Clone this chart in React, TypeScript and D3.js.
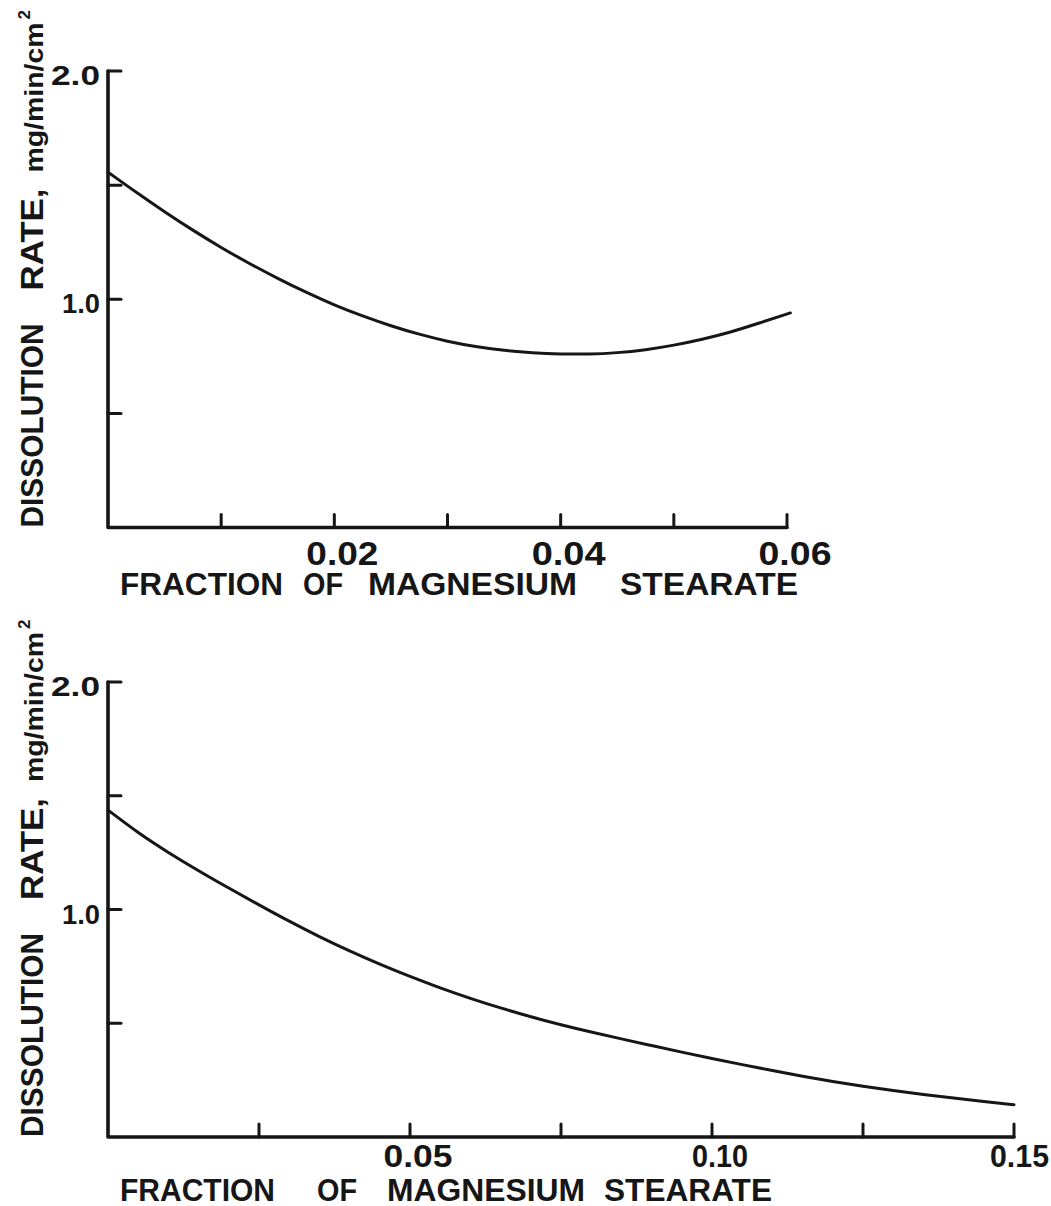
import React from "react";
import * as d3 from "d3";

// ---- data ----
const topX = [0, 0.0025, 0.005, 0.0075, 0.01, 0.0125, 0.015, 0.0175, 0.02, 0.0225, 0.025, 0.0275, 0.03, 0.0325, 0.035, 0.0375, 0.04, 0.0425, 0.045, 0.0475, 0.05, 0.0525, 0.055, 0.0575, 0.0603];
const topY = [1.557, 1.468, 1.383, 1.302, 1.226, 1.156, 1.091, 1.03, 0.974, 0.926, 0.883, 0.846, 0.815, 0.792, 0.775, 0.765, 0.76, 0.759, 0.765, 0.778, 0.798, 0.824, 0.855, 0.895, 0.94];

const botX = [0, 0.005, 0.01, 0.015, 0.02, 0.025, 0.03, 0.035, 0.04, 0.045, 0.05, 0.055, 0.06, 0.065, 0.07, 0.075, 0.08, 0.085, 0.09, 0.095, 0.1, 0.105, 0.11, 0.115, 0.12, 0.125, 0.13, 0.135, 0.14, 0.145, 0.15];
const botY = [1.437, 1.336, 1.25, 1.17, 1.094, 1.02, 0.948, 0.88, 0.817, 0.759, 0.705, 0.655, 0.609, 0.567, 0.528, 0.493, 0.461, 0.431, 0.402, 0.373, 0.345, 0.318, 0.292, 0.267, 0.244, 0.223, 0.204, 0.187, 0.171, 0.156, 0.142];

const yTicks = [0.5, 1.0, 1.5, 2.0];
const yTickLabels = [
  { v: 1.0, t: "1.0" },
  { v: 2.0, t: "2.0" },
];
const topXTicks = [0.01, 0.02, 0.03, 0.04, 0.05, 0.06];
const topXLabels = [
  { v: 0.02, t: "0.02" },
  { v: 0.04, t: "0.04" },
  { v: 0.06, t: "0.06" },
];
const botXTicks = [0.025, 0.05, 0.075, 0.1, 0.125, 0.15];
const botXLabels = [
  { v: 0.05, t: "0.05" },
  { v: 0.1, t: "0.10" },
  { v: 0.15, t: "0.15" },
];
const xTitleWords = ["FRACTION", "OF", "MAGNESIUM", "STEARATE"];
const yTitleMain = ["DISSOLUTION", "RATE,"];
const yTitleUnit = "mg/min/cm";
const yTitleSup = "2";

const INK = "#161616";
const FONT = "'Liberation Sans', Arial, sans-serif";

type PanelProps = {
  xs: number[];
  ys: number[];
  xMax: number;
  xRange: [number, number];
  yRange: [number, number];
  xTicks: number[];
  xLabels: { v: number; t: string }[];
  xLabelLens: number[];
  xLabelBase: number;
  xLabelSize: number;
  titleBase: number;
  titleWords: { x: number; len: number }[];
};

function Panel(p: PanelProps) {
  const x = d3.scaleLinear().domain([0, p.xMax]).range(p.xRange);
  const y = d3.scaleLinear().domain([0, 2]).range(p.yRange);
  const line = d3
    .line<number>()
    .x((_, i) => x(p.xs[i]))
    .y((d) => y(d))
    .curve(d3.curveBasis);
  const x0 = x(0);
  const y0 = y(0);
  const tickLen = 13;
  return (
    <g>
      {/* axes */}
      <path
        d={`M${x0},${y(2)} L${x0},${y0} L${x(p.xMax)},${y0}`}
        fill="none"
        stroke={INK}
        strokeWidth={3.6}
        strokeLinejoin="round"
        strokeLinecap="round"
      />
      {yTicks.map((v) => (
        <line key={"yt" + v} x1={x0} x2={x0 + tickLen} y1={y(v)} y2={y(v)} stroke={INK} strokeWidth={3} strokeLinecap="round" />
      ))}
      {p.xTicks.map((v) => (
        <line key={"xt" + v} x1={x(v)} x2={x(v)} y1={y0} y2={y0 - tickLen} stroke={INK} strokeWidth={3} strokeLinecap="round" />
      ))}
      {/* y tick labels */}
      {yTickLabels.map((d) => (
        <text
          key={"yl" + d.v}
          x={100}
          y={y(d.v) + 14}
          textAnchor="end"
          fontFamily={FONT}
          fontWeight="bold"
          fontSize={28}
          fill={INK}
          textLength={d.t === "1.0" ? 38 : 49}
          lengthAdjust="spacingAndGlyphs"
        >
          {d.t}
        </text>
      ))}
      {/* x tick labels */}
      {p.xLabels.map((d, i) => (
        <text
          key={"xl" + d.v}
          x={Math.min(x(d.v) + 8, 1049 - p.xLabelLens[i] / 2)}
          y={p.xLabelBase}
          textAnchor="middle"
          fontFamily={FONT}
          fontWeight="bold"
          fontSize={p.xLabelSize}
          fill={INK}
          textLength={p.xLabelLens[i]}
          lengthAdjust="spacingAndGlyphs"
        >
          {d.t}
        </text>
      ))}
      {/* x title */}
      {xTitleWords.map((w, i) => (
        <text
          key={"xw" + i}
          x={p.titleWords[i].x}
          y={p.titleBase}
          fontFamily={FONT}
          fontWeight="bold"
          fontSize={31}
          fill={INK}
          textLength={p.titleWords[i].len}
          lengthAdjust="spacingAndGlyphs"
        >
          {w}
        </text>
      ))}
      {/* y title (rotated) */}
      <g transform={`translate(43,${y0}) rotate(-90)`}>
        <text x={0} y={0} fontFamily={FONT} fontWeight="bold" fontSize={31} fill={INK} textLength={204} lengthAdjust="spacingAndGlyphs">
          {yTitleMain[0]}
        </text>
        <text x={237} y={0} fontFamily={FONT} fontWeight="bold" fontSize={31} fill={INK} textLength={102} lengthAdjust="spacingAndGlyphs">
          {yTitleMain[1]}
        </text>
        <text x={355} y={0} fontFamily={FONT} fontWeight="bold" fontSize={25} fill={INK} textLength={150} lengthAdjust="spacingAndGlyphs">
          {yTitleUnit}
        </text>
        <text x={508} y={-13} fontFamily={FONT} fontWeight="bold" fontSize={17} fill={INK}>
          {yTitleSup}
        </text>
      </g>
      {/* curve */}
      <path d={line(p.ys) || ""} fill="none" stroke={INK} strokeWidth={3} strokeLinecap="round" />
    </g>
  );
}

export default function App() {
  return (
    <svg
      width={1051}
      height={1206}
      viewBox="0 0 1051 1206"
      style={{ position: "absolute", left: 0, top: 0, background: "#fff" }}
    >
      <rect x={0} y={0} width={1051} height={1206} fill="#fff" />
      <Panel
        xs={topX}
        ys={topY}
        xMax={0.06}
        xRange={[108, 787]}
        yRange={[527.5, 71]}
        xTicks={topXTicks}
        xLabels={topXLabels}
        xLabelLens={[72, 74, 73]}
        xLabelBase={565}
        xLabelSize={34}
        titleBase={595}
        titleWords={[
          { x: 120, len: 163 },
          { x: 303, len: 40 },
          { x: 368, len: 209 },
          { x: 620, len: 178 },
        ]}
      />
      <Panel
        xs={botX}
        ys={botY}
        xMax={0.15}
        xRange={[108, 1014]}
        yRange={[1137, 682]}
        xTicks={botXTicks}
        xLabels={botXLabels}
        xLabelLens={[69, 56, 59]}
        xLabelBase={1167}
        xLabelSize={31}
        titleBase={1201}
        titleWords={[
          { x: 120, len: 155 },
          { x: 317, len: 40 },
          { x: 387, len: 198 },
          { x: 604, len: 168 },
        ]}
      />
    </svg>
  );
}
